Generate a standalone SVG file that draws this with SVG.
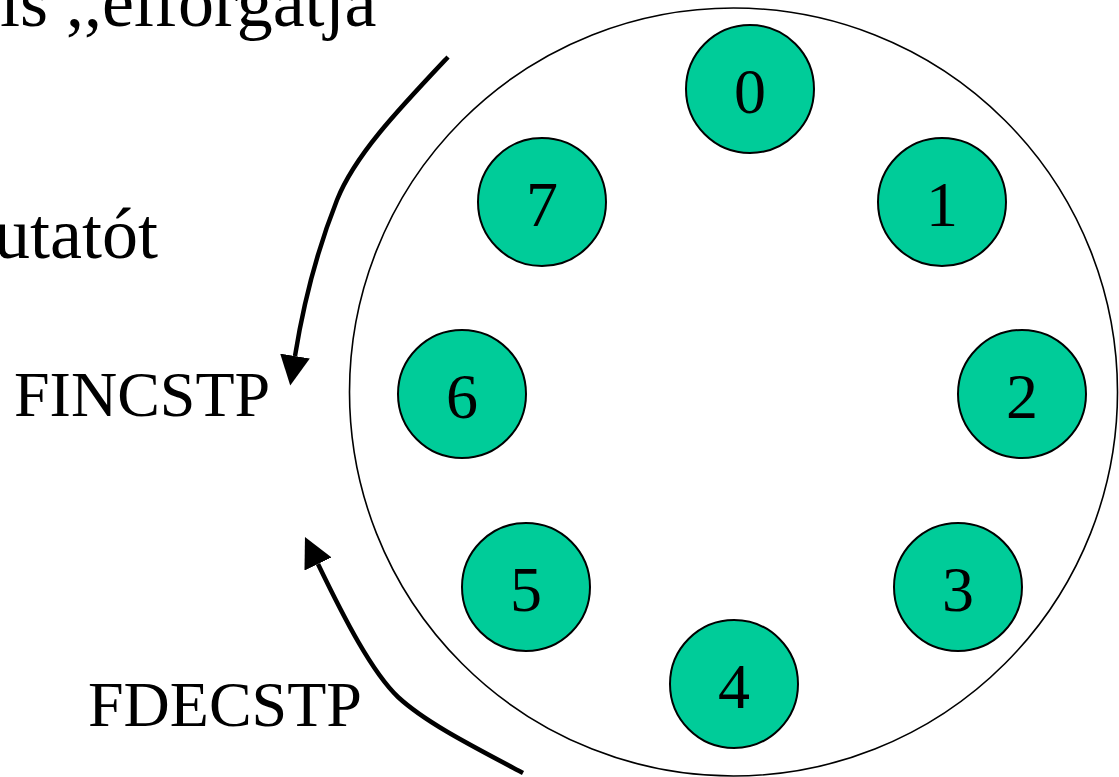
<svg xmlns="http://www.w3.org/2000/svg" width="1119" height="777" viewBox="0 0 1119 777">
  <style>
    .txt { font-family: "Liberation Serif", "Times New Roman", serif; fill: #000; }
    .big { font-size: 72px; }
    .lbl { font-size: 64px; }
    .num { font-size: 64px; text-anchor: middle; }
    .reg { fill: #00CC99; stroke: #000; stroke-width: 2; }
    .ring { fill: none; stroke: #000; stroke-width: 1.6; }
    .arrow { fill: none; stroke: #000; stroke-width: 4.5; marker-end: url(#head); }
  </style>
  <defs>
    <marker id="head" markerUnits="userSpaceOnUse" markerWidth="30" markerHeight="30" viewBox="0 0 28 28" refX="0" refY="14" orient="auto">
      <path d="M0,0 L28,14 L0,28 z" fill="#000"/>
    </marker>
  </defs>

  <rect width="1119" height="777" fill="#fff"/>

  <!-- text fragments -->
  <text class="txt big" x="0" y="26">is ,,elforgatja</text>
  <text class="txt big" x="158" y="258" text-anchor="end">utatót</text>
  <text class="txt lbl" x="14" y="416">FINCSTP</text>
  <text class="txt lbl" x="88" y="726">FDECSTP</text>

  <!-- register stack ring -->
  <circle id="ring" class="ring" cx="733.5" cy="392" r="384"/>

  <g id="reg0"><circle class="reg" cx="750" cy="89" r="64"/><text class="txt num" x="750" y="113">0</text></g>
  <g id="reg1"><circle class="reg" cx="942" cy="202" r="64"/><text class="txt num" x="942" y="226">1</text></g>
  <g id="reg2"><circle class="reg" cx="1022" cy="394" r="64"/><text class="txt num" x="1022" y="418">2</text></g>
  <g id="reg3"><circle class="reg" cx="958" cy="587" r="64"/><text class="txt num" x="958" y="611">3</text></g>
  <g id="reg4"><circle class="reg" cx="734" cy="684" r="64"/><text class="txt num" x="734" y="708">4</text></g>
  <g id="reg5"><circle class="reg" cx="526" cy="587" r="64"/><text class="txt num" x="526" y="611">5</text></g>
  <g id="reg6"><circle class="reg" cx="462" cy="394" r="64"/><text class="txt num" x="462" y="418">6</text></g>
  <g id="reg7"><circle class="reg" cx="542" cy="202" r="64"/><text class="txt num" x="542" y="226">7</text></g>

  <!-- rotation arrows -->
  <g id="connectors">
    <path class="arrow" d="M448,57 C398,110 355,155 337,200 C318,248 304,300 295,356"/>
    <path class="arrow" d="M523,773 C470,745 425,722 398,697 C372,672 345,620 318,564"/>
  </g>
</svg>
